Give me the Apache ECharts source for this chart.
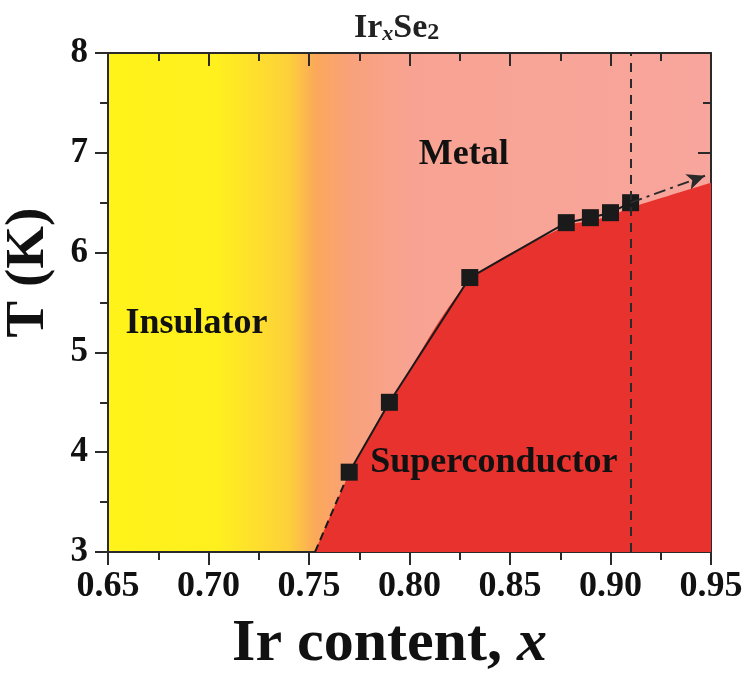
<!DOCTYPE html>
<html>
<head>
<meta charset="utf-8">
<script src="https://cdn.jsdelivr.net/npm/echarts@6/dist/echarts.min.js"></script>
<style>html,body{margin:0;padding:0;background:#fff}#c{width:750px;height:692px}</style>
</head>
<body>
<div id="c"></div>
<script>
// ---- data ----
var irContent = [0.77, 0.79, 0.83, 0.878, 0.89, 0.90, 0.91];
var tcValues = [3.8, 4.5, 5.75, 6.3, 6.35, 6.4, 6.5];
var scBoundaryX = [0.753, 0.77, 0.79, 0.83, 0.878, 0.89, 0.90, 0.91, 0.95];
var scBoundaryT = [3.0, 3.78, 4.48, 5.72, 6.27, 6.32, 6.37, 6.45, 6.70];
var extrapStart = [0.753, 3.0];
var arrowStart = [0.91, 6.5];
var arrowEnd = [0.947, 6.77];
var dashedX = 0.91;
var phaseNames = ['Metal', 'Insulator', 'Superconductor'];
var phaseX = [0.827, 0.694, 0.842];
var phaseT = [6.98, 5.29, 3.89];
var xTicks = [0.65, 0.70, 0.75, 0.80, 0.85, 0.90, 0.95];
var yTicks = [3, 4, 5, 6, 7, 8];

var FONT = '"Liberation Serif", "Times New Roman", serif';
var chart = echarts.init(document.getElementById('c'));

function zip(a, b) { return a.map(function (v, i) { return [v, b[i]]; }); }

var axisLine = { show: true, lineStyle: { color: '#2a2a2a', width: 2 } };
var baseX = {
  type: 'value', min: xTicks[0], max: xTicks[xTicks.length - 1], interval: 0.05,
  splitLine: { show: false }, axisLine: axisLine
};
var baseY = {
  type: 'value', min: yTicks[0], max: yTicks[yTicks.length - 1], interval: 1,
  splitLine: { show: false }, axisLine: axisLine
};

var option = {
  backgroundColor: '#ffffff',
  animation: false,
  title: {
    text: '{a|Ir}{b|x}{a|Se}{c|2}',
    left: 349, top: 2,
    textStyle: {
      rich: {
        a: { fontFamily: FONT, fontWeight: 'bold', fontSize: 34, color: '#222', verticalAlign: 'bottom', lineHeight: 38 },
        b: { fontFamily: FONT, fontStyle: 'italic', fontWeight: 'bold', fontSize: 22, color: '#222', verticalAlign: 'bottom', lineHeight: 34 },
        c: { fontFamily: FONT, fontWeight: 'bold', fontSize: 24, color: '#222', verticalAlign: 'bottom', lineHeight: 36 }
      }
    }
  },
  grid: {
    left: 108, right: 39, top: 53, bottom: 140,
    containLabel: false,
    outerBoundsMode: 'none',
    show: true, borderWidth: 0,
    backgroundColor: new echarts.graphic.LinearGradient(0, 0, 1, 0, [
      { offset: 0.0, color: '#FFF31A' },
      { offset: 0.18, color: '#FFF01E' },
      { offset: 0.30, color: '#FDD03A' },
      { offset: 0.345, color: '#FBA85A' },
      { offset: 0.40, color: '#F9A17A' },
      { offset: 0.50, color: '#F8A392' },
      { offset: 1.0, color: '#F8A59D' }
    ])
  },
  xAxis: [
    Object.assign({}, baseX, {
      position: 'bottom',
      axisTick: { show: true, inside: false, length: 13, lineStyle: { color: '#2a2a2a', width: 2 } },
      minorTick: { show: true, splitNumber: 2, length: 8, lineStyle: { color: '#2a2a2a', width: 2 } },
      axisLabel: {
        margin: 17, fontFamily: FONT, fontWeight: 'bold', fontSize: 36, color: '#111',
        formatter: function (v) { return v.toFixed(2); }
      },
      name: '{n|Ir content, }{i|x}',
      nameLocation: 'middle', nameGap: 62,
      nameTextStyle: {
        padding: [0, 40, 0, 0],
        rich: {
          n: { fontFamily: FONT, fontWeight: 'bold', fontSize: 60, color: '#111' },
          i: { fontFamily: FONT, fontWeight: 'bold', fontStyle: 'italic', fontSize: 60, color: '#111' }
        }
      }
    }),
    Object.assign({}, baseX, {
      position: 'top',
      axisTick: { show: true, inside: true, length: 13, lineStyle: { color: '#2a2a2a', width: 2 } },
      minorTick: { show: true, splitNumber: 2, length: 8, lineStyle: { color: '#2a2a2a', width: 2 } },
      axisLabel: { show: false }
    })
  ],
  yAxis: [
    Object.assign({}, baseY, {
      position: 'left',
      axisTick: { show: true, inside: false, length: 13, lineStyle: { color: '#2a2a2a', width: 2 } },
      minorTick: { show: true, splitNumber: 2, length: 8, lineStyle: { color: '#2a2a2a', width: 2 } },
      axisLabel: { margin: 20, fontFamily: FONT, fontWeight: 'bold', fontSize: 35, color: '#111' },
      name: 'T (K)',
      nameLocation: 'middle', nameGap: 52,
      nameTextStyle: { fontFamily: FONT, fontWeight: 'bold', fontSize: 55, color: '#111', padding: [0, 0, 0, 60] }
    }),
    Object.assign({}, baseY, {
      position: 'right',
      axisTick: { show: true, inside: true, length: 13, lineStyle: { color: '#2a2a2a', width: 2 } },
      minorTick: { show: true, splitNumber: 2, length: 8, lineStyle: { color: '#2a2a2a', width: 2 } },
      axisLabel: { show: false }
    })
  ],
  series: [
    {
      name: 'Superconducting region', type: 'line',
      data: zip(scBoundaryX, scBoundaryT),
      smooth: 0.25, symbol: 'none',
      lineStyle: { width: 0 },
      areaStyle: { color: '#E8322D', opacity: 1, origin: 'start' },
      z: 1
    },
    {
      name: 'Extrapolation', type: 'line',
      data: [extrapStart, [irContent[0], tcValues[0]]],
      symbol: 'none',
      lineStyle: { color: '#1a1a1a', width: 2, type: [8, 5] },
      z: 3
    },
    {
      name: 'Tc', type: 'line',
      data: zip(irContent, tcValues),
      symbol: 'rect', symbolSize: 17,
      itemStyle: { color: '#1a1a1a' },
      lineStyle: { color: '#1a1a1a', width: 2 },
      z: 4,
      markLine: {
        silent: true,
        symbol: 'none',
        label: { show: false },
        data: [
          [
            { coord: arrowStart, symbol: 'none', lineStyle: { color: '#2a2a2a', width: 2, type: [12, 5, 3, 5] } },
            { coord: arrowEnd, symbol: 'arrow', symbolSize: [12, 18] }
          ],
          { xAxis: dashedX, lineStyle: { color: '#2a2a2a', width: 2, type: [9, 7] } }
        ]
      }
    },
    {
      name: 'Labels', type: 'scatter',
      data: phaseX.map(function (x, i) { return { value: [x, phaseT[i]], name: phaseNames[i] }; }),
      symbolSize: 0,
      silent: true,
      itemStyle: { opacity: 1, color: 'rgba(0,0,0,0)' },
      label: {
        show: true, position: 'inside',
        formatter: function (p) { return p.name; },
        fontFamily: FONT, fontWeight: 'bold', fontSize: 36, color: '#111'
      },
      z: 5
    }
  ]
};
chart.setOption(option);
</script>
</body>
</html>
